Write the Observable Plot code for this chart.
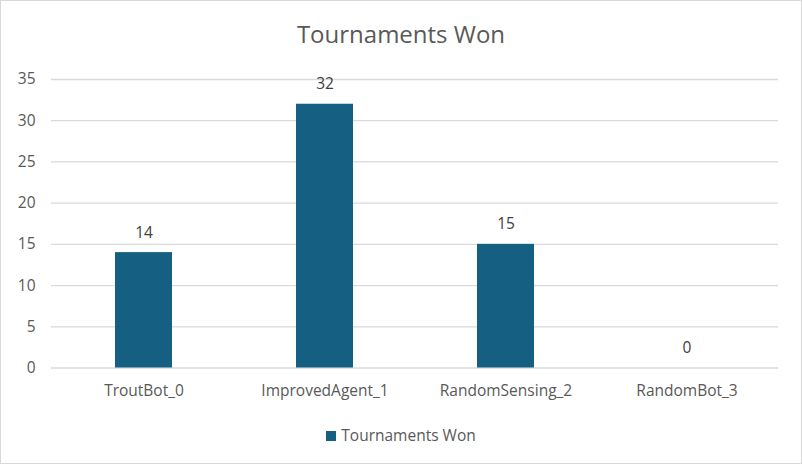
<!DOCTYPE html>
<html>
<head>
<meta charset="utf-8">
<script src="https://cdn.jsdelivr.net/npm/d3@7"></script>
<script src="https://cdn.jsdelivr.net/npm/@observablehq/plot@0.6"></script>
<style>
  html, body { margin: 0; padding: 0; background: #fff; }
  #frame { position: relative; width: 800px; height: 462px; border: 1px solid #d9d9d9; font-family: "Open Sans", sans-serif; color: #595959; overflow: hidden; }
  #title { height: 60px; text-align: center; font-size: 24px; line-height: 66px; color: #595959; }
  #legend { position: absolute; left: 0; right: 0; top: 423px; text-align: center; font-size: 15.5px; color: #595959; }
  #legend .sw { display: inline-block; width: 10px; height: 10px; background: #156082; margin-right: 5px; vertical-align: 0px; }
</style>
</head>
<body>
<div id="frame">
  <div id="title">Tournaments Won</div>
  <div id="chart"></div>
  <div id="legend"><span class="sw"></span>Tournaments Won</div>
</div>
<script>
const categories = ["TroutBot_0", "ImprovedAgent_1", "RandomSensing_2", "RandomBot_3"];
const values = [14, 32, 15, 0];
const yTicks = [0, 5, 10, 15, 20, 25, 30, 35];
const seriesName = "Tournaments Won";

const data = categories.map((c, i) => ({category: c, value: values[i]}));

const chart = Plot.plot({
  width: 800,
  height: 350,
  marginTop: 18,
  marginBottom: 43.5,
  marginLeft: 50,
  marginRight: 23,
  style: {fontFamily: "'Open Sans', sans-serif", fontSize: "15.5px", color: "#595959", background: "transparent"},
  x: {domain: categories, paddingInner: 0.686, paddingOuter: 0.343, label: null, tickSize: 0, tickPadding: 17},
  y: {domain: [0, 35], ticks: yTicks, label: null, tickSize: 0, tickPadding: 16},
  marks: [
    Plot.ruleY(yTicks, {stroke: "#d9d9d9", strokeWidth: 1.3}),
    Plot.barY(data, {x: "category", y: "value", fill: "#156082"}),
    Plot.text(data, {x: "category", y: "value", text: d => String(d.value), dy: -20, fill: "#404040", fontSize: 15.5}),
    Plot.axisY({ticks: yTicks, tickSize: 0, tickPadding: 16, label: null, fontSize: 15.5}),
    Plot.axisX({tickSize: 0, tickPadding: 17, label: null, fontSize: 15.5})
  ]
});
document.getElementById("chart").appendChild(chart);
</script>
</body>
</html>
